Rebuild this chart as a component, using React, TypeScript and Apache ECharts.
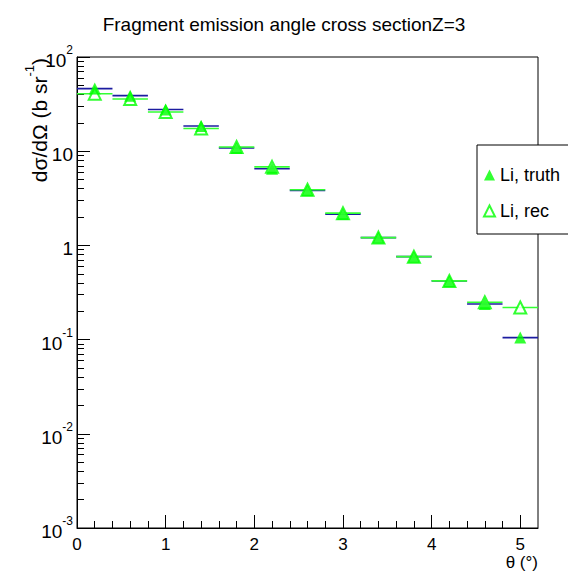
import React, { useEffect, useRef } from 'react';
import * as echarts from 'echarts';

const binCenters = [0.2, 0.6, 1.0, 1.4, 1.8, 2.2, 2.6, 3.0, 3.4, 3.8, 4.2, 4.6, 5.0];
const binWidth = 0.4;
const truthValues = [46.2, 38.9, 27.7, 18.5, 10.8, 6.5, 3.84, 2.15, 1.21, 0.76, 0.42, 0.239, 0.105];
const recValues = [40.8, 35.8, 26.1, 17.4, 11.1, 6.82, 3.9, 2.2, 1.21, 0.76, 0.42, 0.249, 0.219];

const xMajorTicks = [0, 1, 2, 3, 4, 5];
const xMinorTicks = [0.2, 0.4, 0.6, 0.8, 1.2, 1.4, 1.6, 1.8, 2.2, 2.4, 2.6, 2.8, 3.2, 3.4, 3.6, 3.8, 4.2, 4.4, 4.6, 4.8];
const yMajorTicks = [0.001, 0.01, 0.1, 1, 10, 100];
const yMinorMultipliers = [2, 3, 4, 5, 6, 7, 8, 9];
const yMinorTicks: number[] = [];
[0.001, 0.01, 0.1, 1, 10].forEach((d) => yMinorMultipliers.forEach((m) => yMinorTicks.push(d * m)));

const FONT = 'Liberation Sans, Arial, Helvetica, sans-serif';
const TRUTH_LINE = '#1c1ca0';
const REC_LINE = '#33ff33';
const MARKER = '#00ff00';

function lineRenderer(color: string) {
  return (params: any, api: any) => {
    const x = api.value(0);
    const y = api.value(1);
    const p1 = api.coord([x - binWidth / 2, y]);
    const p2 = api.coord([x + binWidth / 2, y]);
    return {
      type: 'line',
      shape: { x1: p1[0], y1: p1[1], x2: p2[0], y2: p2[1] },
      style: { stroke: color, lineWidth: 1.6 },
    };
  };
}

function yLabel(v: number) {
  const e = Math.round(Math.log10(v));
  if (e === 0) return '{b|1}';
  if (e === 1) return '{b|10}';
  return '{b|10}{s|' + e + '}';
}

export default function App() {
  const ref = useRef<HTMLDivElement>(null);
  useEffect(() => {
    if (!ref.current) return;
    const chart = echarts.init(ref.current, undefined, { renderer: 'svg' });
    const truthData = binCenters.map((c, i) => [c, truthValues[i]]);
    const recData = binCenters.map((c, i) => [c, recValues[i]]);
    chart.setOption({
      animation: false,
      backgroundColor: '#ffffff',
      textStyle: { fontFamily: FONT },
      title: {
        text: 'Fragment emission angle cross sectionZ=3',
        left: 'center',
        top: 10,
        textStyle: { fontFamily: FONT, fontSize: 19, fontWeight: 'normal', color: '#000' },
      },
      grid: {
        left: 77,
        top: 57,
        width: 461,
        height: 471,
        show: true,
        borderColor: '#000',
        borderWidth: 1,
        backgroundColor: 'transparent',
      },
      xAxis: [
        {
          type: 'value',
          min: 0,
          max: 5.2,
          position: 'bottom',
          splitLine: { show: false },
          axisLine: { show: true, lineStyle: { color: '#000', width: 1 } },
          axisTick: { show: true, inside: true, length: 13, customValues: xMajorTicks, lineStyle: { color: '#000' } },
          axisLabel: {
            customValues: xMajorTicks,
            fontSize: 17,
            lineHeight: 17,
            color: '#000',
            fontFamily: FONT,
            margin: 8,
          },
        },
        {
          type: 'value',
          min: 0,
          max: 5.2,
          position: 'bottom',
          splitLine: { show: false },
          axisLine: { show: false },
          axisTick: { show: true, inside: true, length: 7, customValues: xMinorTicks, lineStyle: { color: '#000' } },
          axisLabel: { show: false },
        },
      ],
      yAxis: [
        {
          type: 'log',
          logBase: 10,
          min: 0.001,
          max: 100,
          position: 'left',
          splitLine: { show: false },
          axisLine: { show: true, lineStyle: { color: '#000', width: 1 } },
          axisTick: { show: true, inside: true, length: 13, customValues: yMajorTicks, lineStyle: { color: '#000' } },
          axisLabel: {
            customValues: yMajorTicks,
            margin: 4,
            color: '#000',
            formatter: (v: number) => yLabel(v),
            rich: {
              b: { fontSize: 19, fontFamily: FONT, color: '#000', lineHeight: 26, verticalAlign: 'bottom' },
              s: { fontSize: 12, fontFamily: FONT, color: '#000', lineHeight: 13, verticalAlign: 'top' },
            },
          },
        },
        {
          type: 'log',
          logBase: 10,
          min: 0.001,
          max: 100,
          position: 'left',
          splitLine: { show: false },
          axisLine: { show: false },
          axisTick: { show: true, inside: true, length: 7, customValues: yMinorTicks, lineStyle: { color: '#000' } },
          axisLabel: { show: false },
        },
      ],
      legend: {
        orient: 'vertical',
        left: 477,
        top: 145,
        backgroundColor: '#fff',
        borderColor: '#000',
        borderWidth: 1,
        padding: [21, 12, 14, 6],
        itemGap: 18,
        itemWidth: 11,
        itemHeight: 11,
        textStyle: { fontFamily: FONT, fontSize: 18, color: '#000' },
        data: [
          { name: 'Li, truth', icon: 'triangle', itemStyle: { color: MARKER } },
          { name: 'Li, rec', icon: 'emptyTriangle', itemStyle: { color: MARKER, borderColor: MARKER, borderWidth: 1.2 } },
        ],
      },
      series: [
        {
          name: 'truth-lines',
          type: 'custom',
          xAxisIndex: 0,
          yAxisIndex: 0,
          renderItem: lineRenderer(TRUTH_LINE),
          data: truthData,
          z: 2,
          silent: true,
        },
        {
          name: 'rec-lines',
          type: 'custom',
          xAxisIndex: 0,
          yAxisIndex: 0,
          renderItem: lineRenderer(REC_LINE),
          data: recData,
          z: 2,
          silent: true,
        },
        {
          name: 'Li, rec',
          type: 'scatter',
          xAxisIndex: 0,
          yAxisIndex: 0,
          symbol: 'emptyTriangle',
          symbolSize: [12, 12],
          itemStyle: { color: MARKER, borderColor: MARKER, borderWidth: 1.4 },
          data: recData,
          z: 3,
        },
        {
          name: 'Li, truth',
          type: 'scatter',
          xAxisIndex: 0,
          yAxisIndex: 0,
          symbol: 'triangle',
          symbolSize: [12, 12],
          itemStyle: { color: MARKER },
          data: truthData,
          z: 4,
        },
      ],
      graphic: [
        {
          type: 'text',
          x: 36,
          y: 58,
          rotation: Math.PI / 2,
          style: {
            text: '{a|dσ/dΩ (b sr}{s|-1}{a|)}',
            align: 'right',
            verticalAlign: 'middle',
            rich: {
              a: { fontSize: 21, fontFamily: FONT, fill: '#000', lineHeight: 27, verticalAlign: 'bottom' },
              s: { fontSize: 13, fontFamily: FONT, fill: '#000', lineHeight: 14, verticalAlign: 'top' },
            },
          },
        },
        {
          type: 'text',
          x: 538,
          y: 562,
          style: {
            text: 'θ (°)',
            align: 'right',
            verticalAlign: 'middle',
            fontSize: 17,
            lineHeight: 17,
            fontFamily: FONT,
            fill: '#000',
          },
        },
      ],
    });
    return () => chart.dispose();
  }, []);
  return <div ref={ref} style={{ width: 568, height: 571, position: 'fixed', left: 0, top: 0 }} />;
}
